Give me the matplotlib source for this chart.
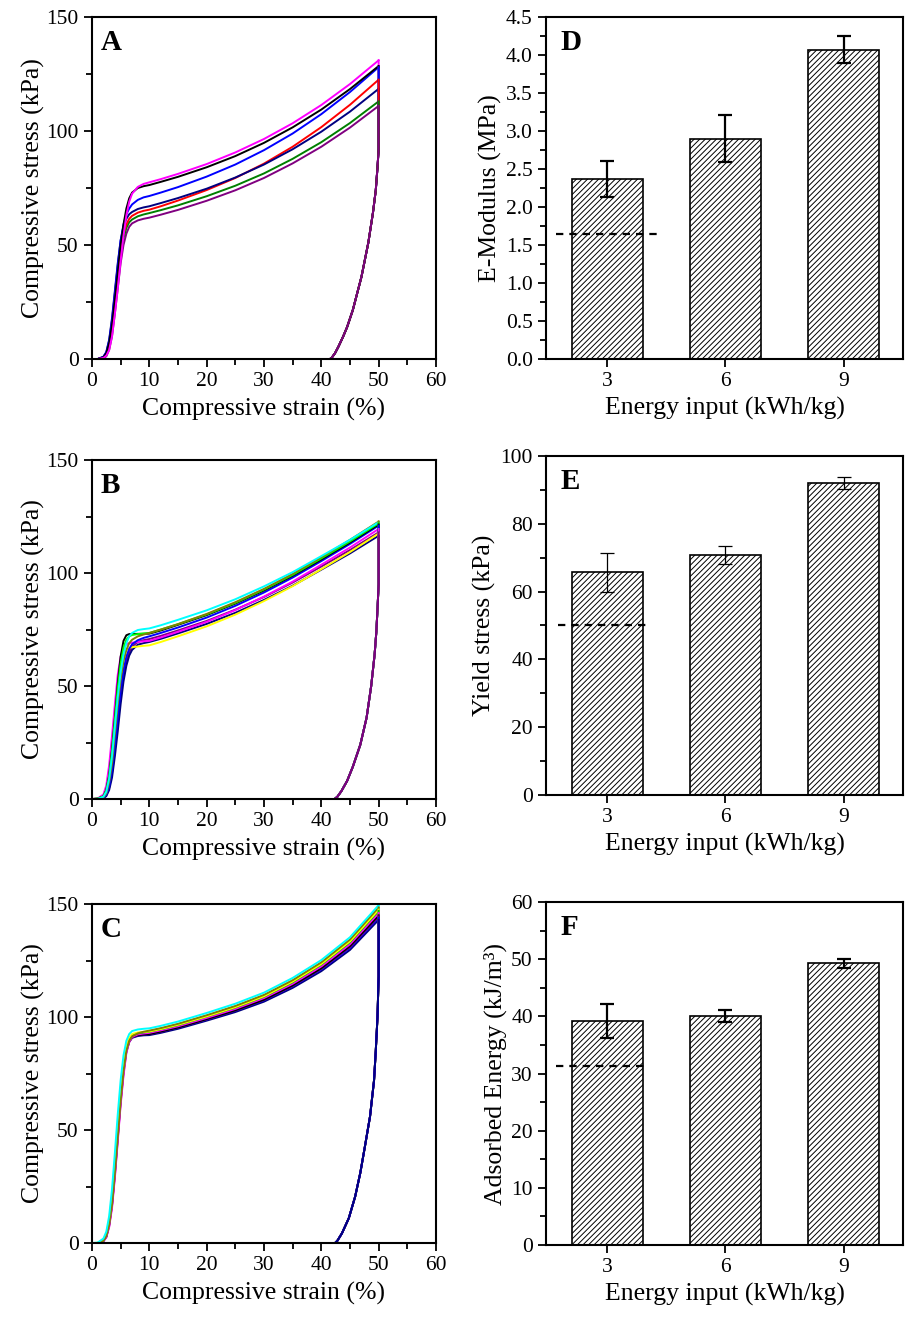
import numpy as np
import matplotlib
matplotlib.use("Agg")
import matplotlib.pyplot as plt
from matplotlib.ticker import MultipleLocator

plt.rcParams['font.family'] = ['Liberation Serif', 'DejaVu Serif']
plt.rcParams['hatch.linewidth'] = 0.7

# ===============================
# Stress-strain data
# ===============================
LOAD_STRAIN = [0, 1, 2, 2.5, 3, 3.5, 4, 4.5, 5, 5.5, 6, 6.5, 7, 8, 9,
               10, 12, 15, 20, 25, 30, 35, 40, 45, 50]

# panel A
A_COLORS = ['#800080', '#008000', '#FF0000', '#000080', '#0000FF', '#000000', '#FF00FF']
A_STRESS = [
    [0, 0, 0.4, 1.2, 4, 10, 20, 31, 42, 50, 55, 58, 59.5, 60.8, 61.5,
     62, 63.3, 65.4, 69.4, 74.0, 79.4, 85.8, 93.1, 101.5, 111],
    [0, 0, 0.6, 1.8, 5.5, 13, 24, 35, 46, 53, 57.5, 60, 61.2, 62.6, 63.4,
     64, 65.3, 67.4, 71.4, 76.0, 81.4, 87.8, 95.1, 103.5, 113],
    [0, 0, 0.7, 2, 6, 14, 25, 37, 48, 55, 59, 61.5, 62.8, 64.2, 65,
     65.5, 67.0, 69.5, 74.1, 79.4, 85.7, 93.1, 101.7, 111.5, 122.5],
    [0, 0, 1, 3, 8.5, 18, 30, 42, 52, 58, 61.5, 63.5, 64.5, 65.8, 66.5,
     67, 68.4, 70.6, 74.7, 79.6, 85.3, 92.0, 99.7, 108.5, 118.5],
    [0, 0, 1, 3, 8, 17, 29, 41, 52, 59, 63.5, 66, 67.8, 69.8, 70.9,
     71.5, 73.0, 75.4, 80.0, 85.3, 91.6, 98.9, 107.4, 117.1, 128],
    [0, 0, 0.8, 2.5, 7, 15, 26, 38, 50, 59, 66, 70.5, 73, 75, 75.8,
     76.3, 77.7, 79.9, 84.1, 89.0, 94.8, 101.6, 109.4, 118.4, 128.5],
    [0, 0, 0.5, 1.5, 4, 10, 20, 31, 43, 54, 63, 69, 72.5, 75.5, 76.8,
     77.5, 78.9, 81.2, 85.5, 90.6, 96.5, 103.4, 111.4, 120.6, 131],
]
A_UNLOAD_X = [50, 49.8, 49.5, 49.0, 48.2, 47.0, 45.5, 44.5, 43.8, 43.0, 42.4, 41.8, 41.5, 0]
A_UNLOAD_Y = [92, 84, 74, 64, 51, 36, 21.5, 14, 9.8, 5.5, 2.6, 0.5, 0, 0]

# panel B
B_COLORS = ['#800080', '#000080', '#FFFF00', '#FF00FF', '#0000FF', '#000000',
            '#00FF00', '#808000', '#00FFFF']
B_STRESS = [
    [0, 0, 0.5, 1.7, 5, 11.5, 22, 34, 46, 55, 61, 65, 67.5, 69.5, 70.3,
     70.8, 72.2, 74.6, 78.8, 83.8, 89.4, 95.8, 102.9, 110.2, 118],
    [0, 0, 0.4, 1.3, 4, 9.5, 19, 30, 42, 52, 59, 63.5, 66, 68.3, 69,
     69.5, 70.9, 73.3, 77.5, 82.4, 88.1, 94.4, 101.5, 108.7, 116.5],
    [0, 0.2, 1.5, 4.5, 12, 24, 38, 51, 60, 64.5, 66, 66.8, 67.2, 67.5, 67.8,
     68, 69.5, 72.0, 76.4, 81.6, 87.6, 94.2, 101.7, 109.3, 117.5],
    [0, 0.3, 2, 6, 15, 28, 42, 55, 63, 67, 68.5, 69, 69.2, 69.5, 69.8,
     70, 71.5, 74.0, 78.4, 83.6, 89.6, 96.2, 103.7, 111.3, 119.5],
    [0, 0, 0.6, 2, 5.5, 13, 24, 36, 48, 57, 63, 66.5, 68.5, 70.3, 71.3,
     72, 73.5, 75.9, 80.3, 85.5, 91.4, 98.0, 105.3, 112.9, 121],
    [0, 0.2, 1.2, 4, 10.5, 22, 36, 51, 63, 70, 72.5, 73, 73, 73.1, 73.1,
     73.2, 74.6, 77.1, 81.4, 86.5, 92.3, 98.8, 106.0, 113.5, 121.5],
    [0, 0.2, 1.2, 3.8, 10, 21, 35, 49, 60, 67, 70.5, 72, 72.6, 73, 73.3,
     73.5, 75.0, 77.4, 81.7, 86.8, 92.7, 99.2, 106.5, 114.0, 122],
    [0, 0.1, 0.8, 2.5, 7.5, 16, 29, 42, 53, 61, 66, 69, 70.5, 72, 72.8,
     73.5, 75.0, 77.4, 81.9, 87.1, 93.0, 99.6, 107.0, 114.7, 122.8],
    [0, 0.1, 1, 3.2, 9, 19, 32, 45, 56, 64, 69, 72, 73.5, 74.8, 75.2,
     75.5, 76.9, 79.3, 83.5, 88.4, 94.1, 100.4, 107.5, 114.7, 122.5],
]
B_UNLOAD_X = [50, 49.8, 49.6, 49.3, 48.7, 47.9, 46.8, 45.5, 44.5, 43.5, 42.8, 42.3, 0]
B_UNLOAD_Y = [95, 84, 74, 64, 50, 36, 24, 14.3, 8, 3.5, 1, 0, 0]

# panel C
C_COLORS = ['#000080', '#0000FF', '#800080', '#000000', '#FF00FF', '#00C000',
            '#FFFF00', '#808000', '#00FFFF']
C_STRESS = [
    [0, 0, 0.9, 2.8, 8, 17, 31, 47, 63, 76, 85, 89, 90.8, 91.6, 91.9,
     92, 93.0, 94.8, 98.4, 102.2, 106.8, 112.9, 120.3, 129.7, 143],
    [0, 0, 1, 3.2, 9, 19, 33, 49, 64.5, 77, 85.5, 89.5, 91.2, 92, 92.3,
     92.5, 93.5, 95.3, 98.9, 102.8, 107.4, 113.6, 121.1, 130.6, 144],
    [0, 0, 0.8, 2.6, 7.5, 16.5, 30, 46, 62, 75, 84.5, 89, 91, 92, 92.3,
     92.5, 93.5, 95.4, 99.0, 102.9, 107.6, 113.8, 121.4, 131.0, 144.5],
    [0, 0, 1, 3, 8.5, 18, 32, 48, 64, 77, 85.5, 89.5, 91.3, 92, 92.3,
     92.5, 93.6, 95.4, 99.1, 103.0, 107.7, 114.0, 121.6, 131.4, 145],
    [0, 0, 0.8, 2.5, 7, 15.5, 29, 45, 61, 74, 84, 89, 91.2, 92.3, 92.7,
     93, 94.1, 95.9, 99.6, 103.6, 108.4, 114.7, 122.4, 132.2, 146],
    [0, 0, 1.2, 3.5, 9, 19, 34, 50, 65, 78, 86, 90, 91.8, 92.8, 93.2,
     93.5, 94.6, 96.4, 100.2, 104.2, 109.0, 115.4, 123.2, 133.1, 147],
    [0, 0.1, 1.5, 4, 10, 21, 36, 52, 68, 80, 87.5, 91, 92.5, 93.2, 93.4,
     93.6, 94.7, 96.6, 100.3, 104.4, 109.2, 115.7, 123.5, 133.5, 147.5],
    [0, 0, 1, 3, 8, 17, 31, 47, 63, 76, 85, 89.5, 91.5, 92.8, 93.5,
     94, 95.1, 97.0, 100.8, 104.9, 109.8, 116.3, 124.2, 134.3, 148.5],
    [0, 0.2, 2, 5, 12, 24, 40, 57, 72, 83, 89.5, 92.5, 93.8, 94.5, 94.8,
     95, 96.1, 98.0, 101.8, 105.9, 110.8, 117.3, 125.2, 135.3, 149.5],
]
C_UNLOAD_X = [50, 49.8, 49.5, 49.2, 48.5, 47.6, 46.8, 45.9, 44.8, 43.6, 42.8, 42.4, 0]
C_UNLOAD_Y = [118, 100, 85, 72, 56, 42.6, 31, 20.5, 11, 4.3, 1, 0, 0]

# ===============================
# Bar data
# ===============================
ENERGY = [3, 6, 9]
MODULUS = [2.37, 2.90, 4.07]
MODULUS_ERR = [0.235, 0.31, 0.18]
MODULUS_REF = 1.65
YIELD = [65.7, 70.7, 92.0]
YIELD_ERR = [5.8, 2.7, 1.8]
YIELD_REF = 50.0
ABSORBED = [39.2, 40.1, 49.3]
ABSORBED_ERR = [2.95, 1.0, 0.8]
ABSORBED_REF = 31.3

TICK_FS = 15.5
LABEL_FS = 18.5
PANEL_FS = 21


def style_axes(ax):
    for sp in ax.spines.values():
        sp.set_linewidth(1.5)
    ax.tick_params(which='both', direction='out', top=False, right=False,
                   labelsize=TICK_FS, width=1.3)
    ax.tick_params(which='major', length=6)
    ax.tick_params(which='minor', length=4)


def curve_panel(ax, stress_sets, colors, ux, uy, letter):
    # loading branches first
    for s, c in zip(stress_sets, colors):
        ax.plot(LOAD_STRAIN, s, color=c, lw=1.4)
    # unloading branches, first colour ends on top
    for s, c in reversed(list(zip(stress_sets, colors))):
        ax.plot([50] + list(ux), [s[-1]] + list(uy), color=c, lw=1.4)
    ax.set_xlim(0, 60)
    ax.set_ylim(0, 150)
    ax.xaxis.set_major_locator(MultipleLocator(10))
    ax.xaxis.set_minor_locator(MultipleLocator(5))
    ax.yaxis.set_major_locator(MultipleLocator(50))
    ax.yaxis.set_minor_locator(MultipleLocator(25))
    ax.set_xlabel("Compressive strain (%)", fontsize=LABEL_FS, labelpad=5)
    ax.set_ylabel("Compressive stress (kPa)", fontsize=LABEL_FS, labelpad=1)
    ax.text(0.025, 0.965, letter, transform=ax.transAxes, fontsize=PANEL_FS,
            fontweight='bold', va='top', ha='left')
    style_axes(ax)


def bar_panel(ax, vals, errs, ref, ref_span, ylim, major, minor, ylabel,
              letter, fmt, thin_err=False):
    ax.bar(ENERGY, vals, width=1.8, color='white', edgecolor='black',
           linewidth=1.2, hatch='//////', zorder=2)
    ew = 0.9 if thin_err else 1.6
    ax.errorbar(ENERGY, vals, yerr=errs, fmt='none', ecolor='black',
                elinewidth=ew, capsize=5, capthick=ew, zorder=3)
    ax.plot(ref_span, [ref, ref], color='black', lw=1.6, dashes=(3.3, 2.7), zorder=4)
    ax.set_xlim(1.45, 10.5)
    ax.set_ylim(*ylim)
    ax.set_xticks(ENERGY)
    ax.yaxis.set_major_locator(MultipleLocator(major))
    ax.yaxis.set_minor_locator(MultipleLocator(minor))
    ax.yaxis.set_major_formatter(fmt)
    ax.set_xlabel("Energy input (kWh/kg)", fontsize=LABEL_FS, labelpad=4)
    ax.set_ylabel(ylabel, fontsize=LABEL_FS, labelpad=3)
    ax.text(0.04, 0.965, letter, transform=ax.transAxes, fontsize=PANEL_FS,
            fontweight='bold', va='top', ha='left', zorder=5)
    style_axes(ax)


fig = plt.figure(figsize=(9.06, 13.19), dpi=100)

axA = fig.add_axes([0.1015, 0.7278, 0.3797, 0.2593])
axB = fig.add_axes([0.1015, 0.3942, 0.3797, 0.2570])
axC = fig.add_axes([0.1015, 0.0576, 0.3797, 0.2570])
axD = fig.add_axes([0.6026, 0.7278, 0.3940, 0.2593])
axE = fig.add_axes([0.6026, 0.3973, 0.3940, 0.2570])
axF = fig.add_axes([0.6026, 0.0561, 0.3940, 0.2600])

curve_panel(axA, A_STRESS, A_COLORS, A_UNLOAD_X, A_UNLOAD_Y, "A")
curve_panel(axB, B_STRESS, B_COLORS, B_UNLOAD_X, B_UNLOAD_Y, "B")
curve_panel(axC, C_STRESS, C_COLORS, C_UNLOAD_X, C_UNLOAD_Y, "C")

bar_panel(axD, MODULUS, MODULUS_ERR, MODULUS_REF, [1.7, 4.35], (0, 4.5), 0.5, 0.25,
          "E-Modulus (MPa)", "D", "{x:.1f}")
bar_panel(axE, YIELD, YIELD_ERR, YIELD_REF, [1.75, 4.1], (0, 100), 20, 10,
          "Yield stress (kPa)", "E", "{x:.0f}", thin_err=True)
bar_panel(axF, ABSORBED, ABSORBED_ERR, ABSORBED_REF, [1.7, 4.0], (0, 60), 10, 5,
          "Adsorbed Energy (kJ/m\u00b3)", "F", "{x:.0f}")

fig.savefig("out.png", dpi=100)
